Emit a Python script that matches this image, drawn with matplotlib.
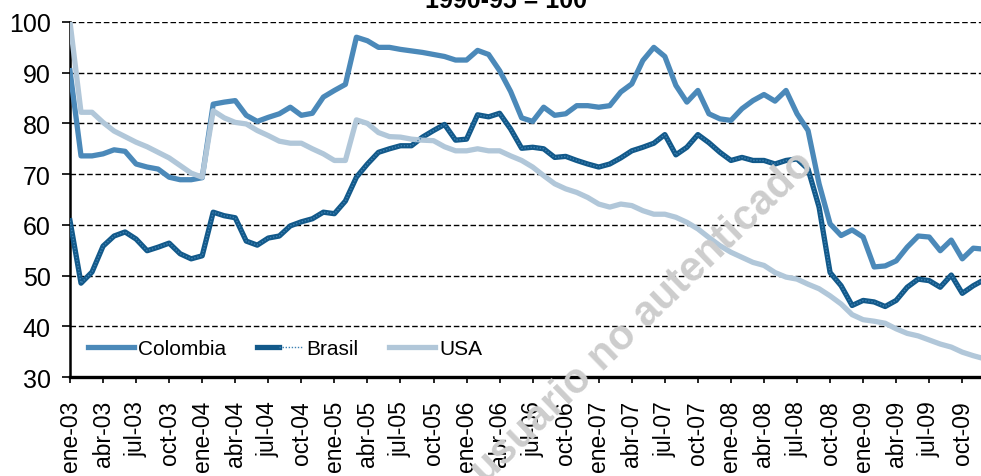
import matplotlib.pyplot as plt
from matplotlib.legend_handler import HandlerTuple
import numpy as np

plt.rcParams['font.family'] = ['Liberation Sans', 'DejaVu Sans']

# índices mensuales ene-03 ... dic-09 (1990-95 = 100)
colombia = [90.4, 73.6, 73.6, 74.0, 74.8, 74.5, 72.0, 71.4, 71.0, 69.4, 68.9, 68.9,
            69.3, 83.8, 84.2, 84.5, 81.6, 80.4, 81.2, 81.9, 83.2, 81.6, 82.0, 85.2,
            86.5, 87.7, 97.0, 96.3, 95.0, 95.0, 94.6, 94.3, 94.0, 93.6, 93.2, 92.5,
            92.5, 94.4, 93.6, 90.4, 86.3, 81.1, 80.4, 83.2, 81.6, 81.9, 83.5, 83.5,
            83.2, 83.5, 86.2, 87.8, 92.4, 95.0, 93.2, 87.5, 84.2, 86.5, 81.9, 80.9,
            80.6, 82.9, 84.5, 85.7, 84.4, 86.5, 81.9, 78.6, 68.1, 60.2, 57.9, 59.0,
            57.6, 51.7, 51.9, 52.9, 55.6, 57.8, 57.6, 54.9, 57.0, 53.3, 55.4, 55.2]
brasil = [60.8, 48.5, 50.7, 55.8, 57.8, 58.6, 57.2, 54.9, 55.6, 56.4, 54.3, 53.3,
          53.9, 62.5, 61.8, 61.4, 56.8, 56.0, 57.4, 57.8, 59.8, 60.6, 61.2, 62.5,
          62.2, 64.7, 69.4, 72.0, 74.3, 75.0, 75.6, 75.6, 77.3, 78.6, 79.8, 76.7,
          76.9, 81.7, 81.3, 82.0, 78.9, 75.1, 75.3, 75.0, 73.3, 73.5, 72.7, 72.0,
          71.4, 72.0, 73.2, 74.6, 75.3, 76.1, 77.8, 73.8, 75.3, 77.8, 76.2, 74.3,
          72.7, 73.3, 72.7, 72.7, 72.0, 72.7, 73.0, 71.0, 63.5, 50.6, 48.0, 44.1,
          45.1, 44.8, 43.9, 45.1, 47.7, 49.3, 49.0, 47.7, 50.1, 46.5, 48.0, 49.2]
usa = [100.0, 82.2, 82.2, 80.2, 78.5, 77.4, 76.3, 75.4, 74.3, 73.2, 71.7, 70.2,
       69.4, 82.5, 81.1, 80.2, 79.9, 78.6, 77.6, 76.5, 76.1, 76.1, 75.0, 74.0,
       72.7, 72.7, 80.7, 80.0, 78.2, 77.4, 77.3, 76.9, 76.7, 76.6, 75.4, 74.6,
       74.6, 75.0, 74.6, 74.6, 73.6, 72.7, 71.4, 69.7, 68.1, 67.1, 66.4, 65.4,
       64.1, 63.5, 64.1, 63.8, 62.8, 62.1, 62.1, 61.5, 60.5, 59.2, 57.5, 55.9,
       54.6, 53.6, 52.6, 52.0, 50.6, 49.7, 49.3, 48.3, 47.4, 46.0, 44.4, 42.3,
       41.3, 41.0, 40.6, 39.5, 38.6, 38.1, 37.3, 36.5, 35.9, 34.9, 34.2, 33.6]

meses = ['ene', 'abr', 'jul', 'oct']
anios = ['03', '04', '05', '06', '07', '08', '09']
etiquetas = [m + '-' + a for a in anios for m in meses]

c_col = '#4b89b9'
c_bra = '#12598a'
c_usa = '#b1c7d9'

x = np.arange(len(colombia))

fig = plt.figure(figsize=(9.81, 4.77), dpi=100)
ax = fig.add_axes([70 / 981, 1 - 378 / 477, 1 - 70 / 981, 355 / 477])

for yv in range(40, 101, 10):
    ax.axhline(yv, color='black', lw=1, ls=(0, (4, 2)), zorder=1)

l_col, = ax.plot(x, colombia, color=c_col, lw=3.8, zorder=3)
l_bra, = ax.plot(x, brasil, color=c_bra, lw=3.8, zorder=3)
l_bra2, = ax.plot(x, brasil, color='#3f82b3', lw=1.0, ls=(0, (1, 1.2)), zorder=4)
l_usa, = ax.plot(x, usa, color=c_usa, lw=3.8, zorder=3)

ax.set_xlim(0, 82.7)
ax.set_ylim(30, 100)
ax.set_yticks(range(30, 101, 10))
ax.set_xticks(np.arange(0, len(etiquetas) * 3, 3))
ax.set_xticklabels(etiquetas, rotation=90, fontsize=16.5)
ax.tick_params(axis='y', labelsize=18, length=6, width=1.2, pad=8)
ax.tick_params(axis='x', length=4.5, width=1.2, pad=12)

for s in ['top', 'right']:
    ax.spines[s].set_visible(False)
ax.spines['left'].set_linewidth(1.8)
ax.spines['bottom'].set_linewidth(2.4)

leg = ax.legend([l_col, (l_bra, l_bra2), l_usa], ['Colombia', 'Brasil', 'USA'],
                handler_map={tuple: HandlerTuple(ndivide=None, pad=0)},
                loc='center left', bbox_to_anchor=(0.02, 0.079), ncol=3,
                frameon=False, fontsize=15, handlelength=2.2,
                handletextpad=0.2, columnspacing=1.45, borderpad=0,
                borderaxespad=0)

fig.text(506 / 981, 1 - 8 / 477, '1990-95 = 100', ha='center', va='baseline',
         fontsize=18, fontweight='bold')

fig.text(808 / 981, 1 - 158 / 477, 'Documento para usuario no autenticado',
         ha='right', va='center', rotation=44, rotation_mode='anchor',
         fontsize=30, fontweight='bold', color='#cdcdcd', zorder=0)

fig.savefig('out.png', dpi=100)
